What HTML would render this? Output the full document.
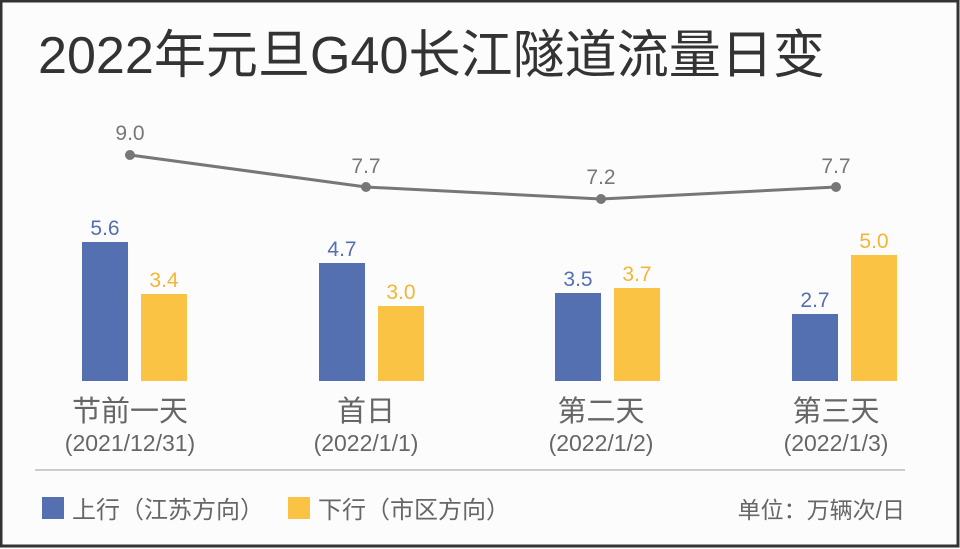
<!DOCTYPE html>
<html><head><meta charset="utf-8"><style>
body{margin:0;background:#fff}
svg{display:block}
text{font-family:"Liberation Sans","Noto Sans CJK SC",sans-serif}
</style></head><body>
<svg width="960" height="549" viewBox="0 0 960 549">
<rect x="0" y="0" width="960" height="549" fill="#fdfcfd"/>
<rect x="1" y="1" width="957" height="545" fill="none" stroke="#333" stroke-width="3"/>
<text x="38" y="73" font-size="52" fill="#333" textLength="787" lengthAdjust="spacingAndGlyphs">2022年元旦G40长江隧道流量日变</text>
<g fill="#5470b0">
<rect x="82" y="242" width="46" height="139"/>
<rect x="319" y="263" width="46" height="118"/>
<rect x="555" y="293" width="46" height="88"/>
<rect x="792" y="314" width="46" height="67"/>
</g>
<g fill="#fbc344">
<rect x="141" y="294" width="46" height="87"/>
<rect x="378" y="306" width="46" height="75"/>
<rect x="614" y="288" width="46" height="93"/>
<rect x="851" y="255" width="46" height="126"/>
</g>
<g font-size="21" text-anchor="middle">
<text x="105" y="235" fill="#5470b0">5.6</text>
<text x="342" y="256" fill="#5470b0">4.7</text>
<text x="578" y="286" fill="#5470b0">3.5</text>
<text x="815" y="307" fill="#5470b0">2.7</text>
<text x="164" y="287" fill="#f2b632">3.4</text>
<text x="401" y="299" fill="#f2b632">3.0</text>
<text x="637" y="281" fill="#f2b632">3.7</text>
<text x="874" y="248" fill="#f2b632">5.0</text>
<text x="130" y="140" fill="#777">9.0</text>
<text x="366" y="173" fill="#777">7.7</text>
<text x="601" y="184" fill="#777">7.2</text>
<text x="836" y="173" fill="#777">7.7</text>
</g>
<polyline points="130,155 366,187 601,199 836,187" fill="none" stroke="#777" stroke-width="3"/>
<g fill="#777"><circle cx="130" cy="155" r="5"/><circle cx="366" cy="187" r="5"/><circle cx="601" cy="199" r="5"/><circle cx="836" cy="187" r="5"/></g>
<g font-size="29" text-anchor="middle" fill="#666">
<text x="130" y="421">节前一天</text>
<text x="366" y="421">首日</text>
<text x="601" y="421">第二天</text>
<text x="836" y="421">第三天</text>
</g>
<g font-size="23" text-anchor="middle" fill="#666">
<text x="130" y="451">(2021/12/31)</text>
<text x="366" y="451">(2022/1/1)</text>
<text x="601" y="451">(2022/1/2)</text>
<text x="836" y="451">(2022/1/3)</text>
</g>
<rect x="35" y="469" width="870" height="2" fill="#ccc"/>
<rect x="42" y="497" width="22" height="22" fill="#5470b0"/>
<text x="72" y="518" font-size="24" fill="#666">上行（江苏方向）</text>
<rect x="288" y="497" width="22" height="22" fill="#fbc344"/>
<text x="318" y="518" font-size="24" fill="#666">下行（市区方向）</text>
<text x="905" y="518" font-size="23" fill="#666" text-anchor="end">单位：万辆次/日</text>
</svg>
</body></html>
